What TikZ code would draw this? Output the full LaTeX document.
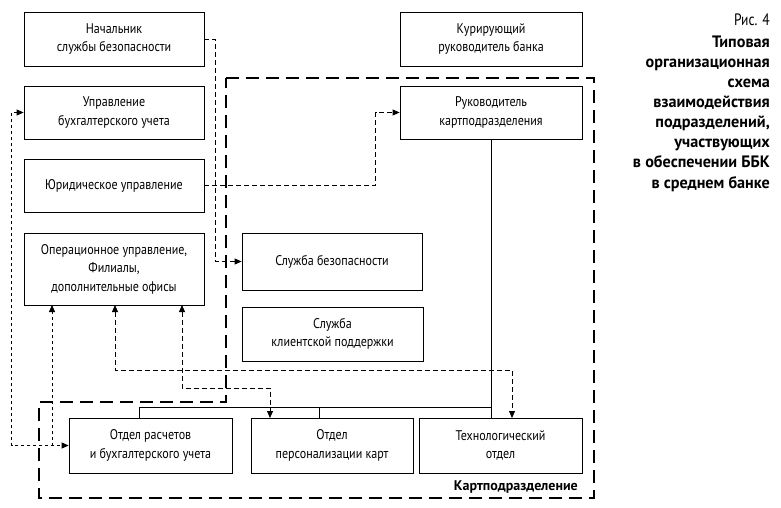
\documentclass[tikz,border=0pt]{standalone}
\usepackage{fontspec}
\setmainfont{PT Sans}[FakeStretch=0.86]
\newfontfamily\widebold{PT Sans}
\newfontfamily\capbold{PT Sans}[FakeStretch=0.98]
\newfontfamily\capreg{PT Sans}[FakeStretch=0.82]
\usetikzlibrary{arrows.meta}
\begin{document}
\begin{tikzpicture}[x=1pt,y=-1pt,
  font=\fontsize{14}{18.5}\selectfont,
  box/.style={draw,line width=0.8pt,align=center,inner sep=0pt},
  thindash/.style={line width=0.8pt,dash pattern=on 5pt off 3pt},
  finedash/.style={line width=0.8pt,dash pattern=on 3pt off 3pt},
  bigdash/.style={line width=2.8pt,dash pattern=on 13pt off 7pt,line join=miter},
  arrowend/.style={-{Triangle[length=7pt,width=6pt]}},
  arrowboth/.style={{Triangle[length=7pt,width=6pt]}-{Triangle[length=7pt,width=6pt]}},
  captext/.style={anchor=base east,inner sep=0pt,font=\fontsize{16.5}{20}\capbold\bfseries}]
\path[fill=white,use as bounding box] (0,0) rectangle (781,507);

% boundary of card division
\draw[bigdash] (226,78) -- (594,78) -- (594,498) -- (39,498) -- (39,402) -- (226,402) -- cycle;

% boxes
\node[box,minimum width=180pt,minimum height=54pt] (nsb) at (114,39) {Начальник\\службы безопасности};
\node[box,minimum width=180pt,minimum height=53pt] (ubu) at (114,112.5) {Управление\\бухгалтерского учета};
\node[box,minimum width=180pt,minimum height=53pt] (jur) at (114,185.5) {Юридическое управление};
\node[box,minimum width=180pt,minimum height=72pt] (oper) at (114,269) {Операционное управление,\\Филиалы,\\дополнительные офисы};
\node[box,minimum width=182pt,minimum height=54pt] (kur) at (491,39) {Курирующий\\руководитель банка};
\node[box,minimum width=182pt,minimum height=53pt] (ruk) at (491,112.5) {Руководитель\\картподразделения};
\node[box,minimum width=180pt,minimum height=57pt] (sb) at (332,261.5) {Служба безопасности};
\node[box,minimum width=181pt,minimum height=54pt] (skp) at (332.5,334) {Служба\\клиентской поддержки};
\node[box,minimum width=163pt,minimum height=55pt] (otr) at (150.5,445.5) {Отдел расчетов\\и бухгалтерского учета};
\node[box,minimum width=162pt,minimum height=55pt] (opk) at (332,445.5) {Отдел\\персонализации карт};
\node[box,minimum width=163pt,minimum height=55pt] (tex) at (500.5,445.5) {Технологический\\отдел};

\node[anchor=base east,inner sep=0pt,font=\fontsize{14}{18}\widebold\bfseries] (kd) at (578,490) {Картподразделение};

% tree connectors
\coordinate (ta) at (139,418);
\coordinate (tp) at (319,418);
\coordinate (tt) at (ruk.south |- tex.north);
\coordinate (bar) at (139,407);
\draw[line width=0.8pt] (ruk.south) -- (tt);
\draw[line width=0.8pt] (ta) -- (bar) -- (bar -| ruk.south);
\draw[line width=0.8pt] (tp) -- (tp |- bar);

% dashed connectors
\draw[thindash,arrowend] (nsb.east) -- ++(11,0) |- (sb.west);
\draw[thindash,arrowend] (jur.east) -| ([xshift=-24pt]ruk.west) -- (ruk.west);
\draw[finedash,arrowboth] (ubu.west) -- ++(-12,0) |- (otr.west);
\coordinate (oa) at (52,305);
\coordinate (ob) at (115,305);
\coordinate (oc) at (182,305);
\coordinate (tb) at (512,418);
\coordinate (pb) at (270,418);
\draw[finedash,arrowend] (oa |- otr.west) -- (oa);
\draw[thindash,arrowboth] (ob) -- ++(0,65) -| (tb);
\draw[thindash,arrowboth] (oc) -- ++(0,83) -| (pb);

% caption
\node[anchor=base east,inner sep=0pt,font=\fontsize{16.5}{20}\capreg] (c0) at (770,25) {Рис. 4};
\node[captext] (c1) at (770,47.3) {Типовая};
\node[captext] (c2) at (770,67.4) {организационная};
\node[captext] (c3) at (770,87.5) {схема};
\node[captext] (c4) at (770,107.6) {взаимодействия};
\node[captext] (c5) at (770,127.7) {подразделений,};
\node[captext] (c6) at (770,147.8) {участвующих};
\node[captext] (c7) at (770,167.9) {в обеспечении ББК};
\node[captext] (c8) at (770,188) {в среднем банке};
\end{tikzpicture}
\end{document}
